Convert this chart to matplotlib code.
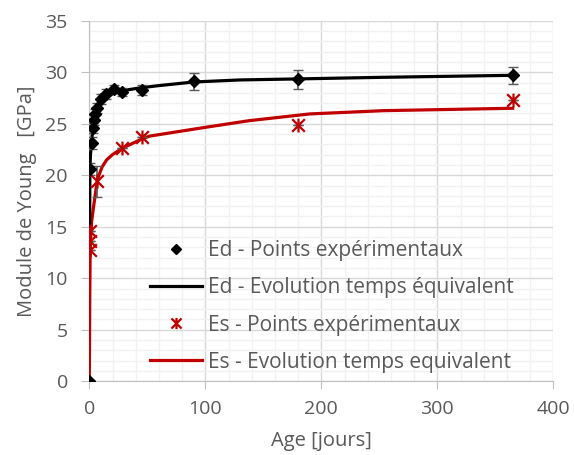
import matplotlib.pyplot as plt
from matplotlib.path import Path

# Ed - points experimentaux (age en jours, module en GPa)
ed_age = [0, 1, 2, 3, 4, 5, 7, 10, 14, 21, 28, 45, 90, 180, 365]
ed_val = [0, 20.6, 23.1, 24.6, 25.4, 25.9, 26.5, 27.4, 27.9, 28.4, 28.1, 28.3, 29.1, 29.3, 29.7]
ed_err = [0, 0.6, 0.6, 0.5, 0.5, 0.5, 0.5, 0.5, 0.5, 0.4, 0.4, 0.5, 0.8, 0.9, 0.85]

# Ed - courbe temps equivalent
ed_fit_age = [0.3, 0.5, 1, 2, 3, 5, 7, 10, 14, 21, 28, 45, 60, 90, 130, 180, 250, 365]
ed_fit_val = [15.0, 20.3, 22.0, 23.3, 24.5, 25.6, 26.3, 27.0, 27.5, 28.0, 28.2, 28.5, 28.7, 29.05, 29.25, 29.35, 29.5, 29.7]

# Es - points experimentaux
es_age = [1, 1, 1, 7, 28, 45, 180, 365]
es_val = [14.6, 13.6, 12.7, 19.4, 22.6, 23.7, 24.9, 27.3]
es_err = [0, 0, 0, 1.5, 0, 0, 0, 0]

# Es - courbe temps equivalent
es_fit_age = [0, 0.4, 0.7, 1, 2, 3.5, 7, 11, 15, 20, 28, 45, 52, 100, 138, 190, 254, 365]
es_fit_val = [0, 8.0, 12.0, 13.5, 15.5, 16.8, 19.6, 20.8, 21.5, 22.0, 22.6, 23.5, 23.8, 24.65, 25.3, 25.95, 26.27, 26.5]

GRIS = '#595959'
ROUGE = '#c00000'

plt.rcParams['font.family'] = ['Open Sans', 'DejaVu Sans']
plt.rcParams['font.size'] = 14

fig = plt.figure(figsize=(5.74, 4.55), dpi=100)
ax = fig.add_axes([89.3 / 574, 1 - 381.3 / 455, 464 / 574, 360.6 / 455])

ax.set_xlim(0, 400)
ax.set_ylim(0, 35)
ax.set_xticks(range(0, 401, 100))
ax.set_xticks(range(0, 401, 20), minor=True)
ax.set_yticks(range(0, 36, 5))
ax.set_yticks(range(0, 36, 1), minor=True)
ax.grid(which='minor', color='#f2f2f2', lw=1)
ax.grid(which='major', color='#d9d9d9', lw=1)
ax.set_axisbelow(True)
for s in ['top', 'right']:
    ax.spines[s].set_visible(False)
for s in ['left', 'bottom']:
    ax.spines[s].set_color('#bfbfbf')
ax.tick_params(which='major', length=5.5, color='#bfbfbf', labelcolor=GRIS, labelsize=14)
ax.tick_params(axis='y', pad=10)
ax.tick_params(axis='x', pad=8)
ax.tick_params(which='minor', length=0)

star = Path([(-1, -1), (1, 1), (-1, 1), (1, -1), (0, -1.1), (0, 1.1)],
            [Path.MOVETO, Path.LINETO, Path.MOVETO, Path.LINETO, Path.MOVETO, Path.LINETO])

ax.plot(es_fit_age, es_fit_val, color=ROUGE, lw=2.3, zorder=3,
        label='Es - Evolution temps equivalent')
ax.errorbar(es_age, es_val, yerr=es_err, fmt='none', ecolor=GRIS, elinewidth=1.2, capsize=3.5, zorder=4)
ax.plot(es_age, es_val, ls='none', marker=star, ms=10, mew=1.6, mec=ROUGE, mfc='none', zorder=5,
        label='Es - Points expérimentaux')

ax.plot(ed_fit_age, ed_fit_val, color='black', lw=2.3, zorder=3,
        label='Ed - Evolution temps équivalent')
ax.errorbar(ed_age, ed_val, yerr=ed_err, fmt='none', ecolor=GRIS, elinewidth=1.2, capsize=3.5, zorder=4)
ax.plot(ed_age, ed_val, ls='none', marker='D', ms=6, color='black', zorder=5,
        label='Ed - Points expérimentaux')

h, l = ax.get_legend_handles_labels()
order = [3, 2, 1, 0]
ax.legend([h[i] for i in order], [l[i] for i in order], loc='upper left',
          bbox_to_anchor=(150 / 574, 1 - 240 / 455), bbox_transform=fig.transFigure,
          frameon=False, borderpad=0, borderaxespad=0, handlelength=2.5,
          handletextpad=0.3, labelspacing=0.78, fontsize=15, labelcolor=GRIS,
          markerscale=0.8)

ax.set_ylabel('Module de Young   [GPa]', color=GRIS, fontsize=14.5, labelpad=6)
ax.set_xlabel('Age [jours]', color=GRIS, fontsize=14.5, labelpad=9)

fig.savefig('out.png', dpi=100)
